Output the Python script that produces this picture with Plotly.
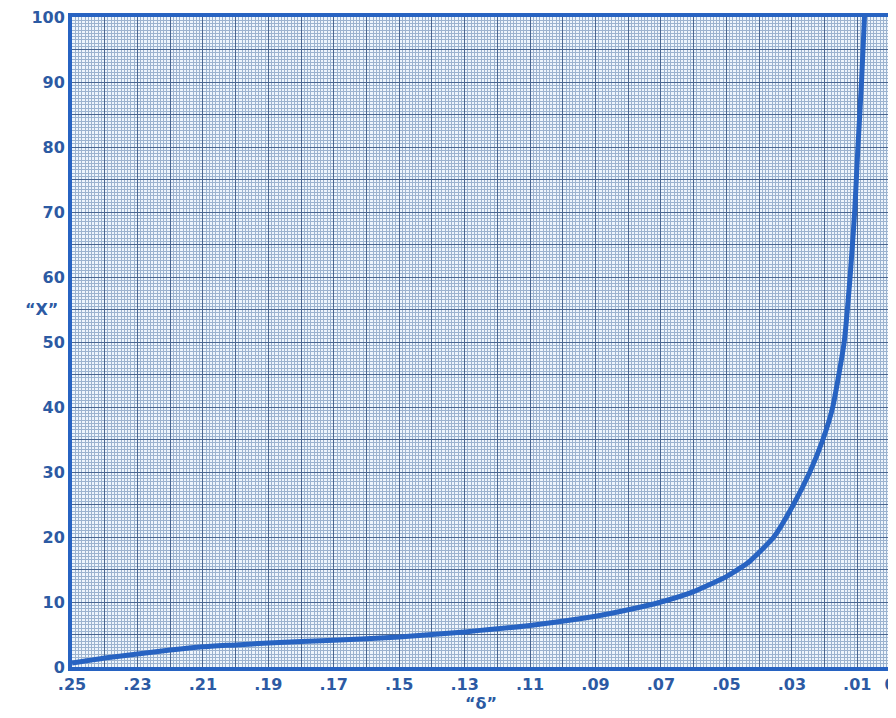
import plotly.graph_objects as go

# curve: delta (x) vs "X" (y)
delta = [0.25, 0.245, 0.24, 0.23, 0.22, 0.21, 0.20, 0.19, 0.17, 0.15, 0.13, 0.11,
         0.09, 0.08, 0.07, 0.06, 0.05, 0.043, 0.0355, 0.0295, 0.0245, 0.0205,
         0.0175, 0.014, 0.0122, 0.0108, 0.0098, 0.0087, 0.0078]
x_val = [0.6, 1.0, 1.4, 2.0, 2.6, 3.1, 3.4, 3.7, 4.1, 4.6, 5.4, 6.4,
         7.8, 8.8, 10.0, 11.6, 13.9, 16.2, 20.0, 25.0, 30.0, 35.0,
         40.0, 50.0, 60.0, 70.0, 80.0, 90.0, 100.0]

x_ticks = [round(0.25 - i * 0.01, 2) for i in range(26)]
x_labels = [".25", "", ".23", "", ".21", "", ".19", "", ".17", "", ".15", "", ".13", "",
            ".11", "", ".09", "", ".07", "", ".05", "", ".03", "", ".01", "0"]
y_ticks = list(range(0, 105, 5))
y_labels = ["0", "", "10", "", "20", "", "30", "", "40", "", "50", "",
            "60", "", "70", "", "80", "", "90", "", "100"]

BLUE = "#2763c2"
INK = "#2c5aa3"
MAJOR = "#4a6690"
MINOR = "#9cb3cf"
PAPER = "#eef5fc"

fig = go.Figure()
fig.add_trace(go.Scatter(
    x=delta, y=x_val, mode="lines",
    line={"color": BLUE, "width": 5, "shape": "spline", "smoothing": 0.5},
    hoverinfo="skip", showlegend=False,
))

axis_font = {"family": "DejaVu Sans", "size": 16, "color": INK, "weight": "bold"}

# page body adds a small offset, so the figure is sized to fit inside it
fig.update_layout(
    width=888, height=710,
    margin={"l": 64, "r": 6, "t": 9, "b": 51},
    paper_bgcolor="white",
    plot_bgcolor=PAPER,
    font=axis_font,
    xaxis={
        "range": [0.25, 0], "tickmode": "array", "tickvals": x_ticks, "ticktext": x_labels,
        "showgrid": True, "gridcolor": MAJOR, "gridwidth": 1,
        "minor": {"dtick": 0.001, "showgrid": True, "gridcolor": MINOR, "gridwidth": 1},
        "showline": True, "linecolor": BLUE, "linewidth": 4, "mirror": True,
        "zeroline": False, "ticks": "", "tickfont": axis_font, "automargin": False,
        "ticklabeloverflow": "allow",
        "title": {"text": "“δ”", "font": axis_font, "standoff": 0},
    },
    yaxis={
        "range": [0, 100], "tickmode": "array", "tickvals": y_ticks, "ticktext": y_labels,
        "showgrid": True, "gridcolor": MAJOR, "gridwidth": 1,
        "minor": {"dtick": 0.5, "showgrid": True, "gridcolor": MINOR, "gridwidth": 1},
        "showline": True, "linecolor": BLUE, "linewidth": 4, "mirror": True,
        "zeroline": False, "ticks": "", "tickfont": axis_font, "automargin": False,
        "ticklabeloverflow": "allow",
        "title": {"text": ""},
    },
)

fig.add_annotation(
    text="“X”", xref="paper", yref="paper", x=-0.037, y=0.55,
    showarrow=False, font=axis_font, xanchor="center",
)

fig.write_html("out.html")
